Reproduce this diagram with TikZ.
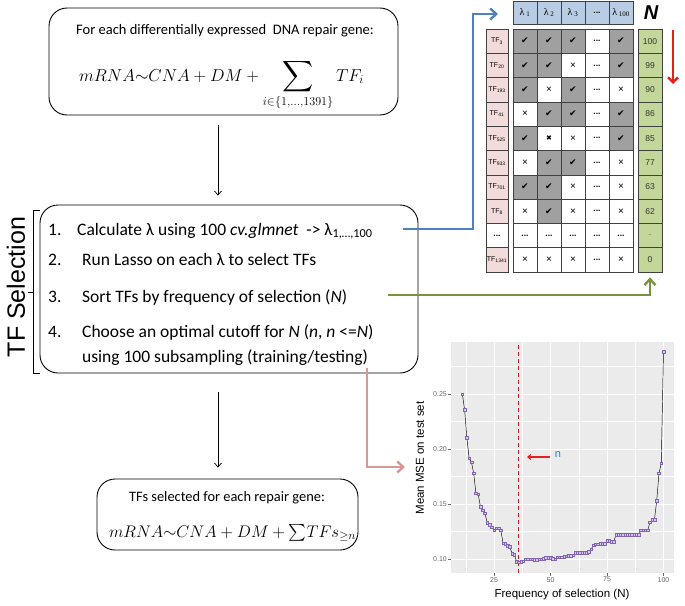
\RequirePackage{fix-cm}
\documentclass[tikz,border=0pt]{standalone}
\usepackage[no-math]{fontspec}
\usepackage{amsmath,amssymb,graphicx}
\setmainfont{Carlito}
\newfontfamily\arial{Liberation Sans}
\newfontfamily\dejavu{DejaVu Sans}
\newfontfamily\timesf{Liberation Serif}
\usetikzlibrary{arrows.meta,calc,plotmarks}
\definecolor{tblue}{RGB}{184,204,228}
\definecolor{tpink}{RGB}{242,220,219}
\definecolor{tgreen}{RGB}{196,215,155}
\definecolor{tgray}{RGB}{160,160,160}
\definecolor{lblue}{RGB}{79,129,189}
\definecolor{lgreen}{RGB}{119,147,60}
\definecolor{lpink}{RGB}{217,150,148}
\definecolor{lred}{RGB}{230,30,30}
\definecolor{panel}{RGB}{235,235,235}
\definecolor{mpurple}{RGB}{130,100,175}
\definecolor{mfill}{RGB}{215,200,235}
\definecolor{nblue}{RGB}{50,120,220}
\newcommand{\bigsum}{\mathop{\vcenter{\hbox{\scalebox{1.25}{$\displaystyle\sum$}}}}}
\begin{document}
\begin{tikzpicture}[x=1pt,y=-1pt,
  box/.style={draw=black, line width=0.9pt, rounded corners=18pt, inner sep=0pt},
  item/.style={anchor=base west, inner sep=0pt, font=\fontsize{17.5}{20}\selectfont},
  flow/.style={-{Straight Barb[length=4pt,width=7pt]}, line width=0.7pt},
  conn/.style={-{Straight Barb[length=6pt,width=11pt]}, line width=2.4pt},
  cbase/.style={draw=black!75, line width=0.6pt, minimum width=24pt, minimum height=24.3pt, inner sep=0pt},
  cg/.style={cbase, fill=tgray, font=\dejavu\fontsize{9}{9}\selectfont, node contents={✔}},
  cx/.style={cbase, fill=white, font=\arial\fontsize{10}{10}\selectfont, node contents={×}},
  cX/.style={cbase, fill=white, font=\dejavu\fontsize{7}{7}\selectfont, node contents={✖}},
  cd/.style={cbase, fill=white, font=\arial\bfseries\fontsize{8.5}{8.5}\selectfont, node contents={...}},
  tfcell/.style={draw=black!75, line width=0.6pt, fill=tpink, minimum width=22pt, minimum height=24.3pt, inner sep=0pt, font=\arial\fontsize{7}{7}\selectfont},
  ncell/.style={draw=black!75, line width=0.6pt, fill=tgreen, minimum width=24pt, minimum height=24.3pt, inner sep=0pt, font=\arial\fontsize{8.5}{8.5}\selectfont, text=black!80},
  hcell/.style={draw=black!75, line width=0.6pt, fill=tblue, minimum width=24pt, minimum height=23pt, inner sep=0pt, font=\timesf\fontsize{10}{10}\selectfont},
  tick/.style={font=\arial\fontsize{7}{7}\selectfont, text=black!60, inner sep=1pt}
]
\useasboundingbox (0,0) rectangle (685,605);

% ---------- top box ----------
\node[box, minimum width=349pt, minimum height=107pt] (top) at (223.5,61.5) {};
\node[font=\fontsize{14.5}{17}\selectfont, inner sep=0pt] (toptxt) at (225,31) {For each differentially expressed\ \ DNA repair gene:};
\node[anchor=base, inner sep=0pt, font=\fontsize{17.3}{20}\selectfont] (topf) at (221.5,81)
  {$mRNA{\sim}CNA + DM + \bigsum\limits_{i\in\{1,\dots,1391\}} TF_i$};

% ---------- middle box ----------
\node[box, minimum width=378pt, minimum height=168pt] (mid) at (229,289) {};
\node[item] (k1) at (48,235) {1.};
\node[item] (t1) at (77,235) {Calculate λ using 100 \textit{cv.glmnet}\ \ -> λ\textsubscript{1,…,100}};
\node[item] (k2) at (48,265) {2.};
\node[item] (t2) at (82,265) {Run Lasso on each λ to select TFs};
\node[item] (k3) at (48,302) {3.};
\node[item] (t3) at (82,302) {Sort TFs by frequency of selection (\textit{N})};
\node[item] (k4) at (48,337) {4.};
\node[item] (t4) at (82,337) {Choose an optimal cutoff for \textit{N} (\textit{n}, \textit{n} <=\textit{N})};
\node[item] (t5) at (82,362) {using 100 subsampling (training/testing)};

% brace and label
\draw[line width=0.8pt] (40,210) -- (33,210) -- (33,373) -- (40,373);
\draw[line width=0.8pt] (33,292) -- (28,292);
\node[rotate=90, font=\arial\fontsize{25}{25}\selectfont, inner sep=0pt] (tfsel) at (16,287) {TF Selection};

% ---------- bottom box ----------
\node[box, minimum width=261pt, minimum height=71pt] (bot) at (227.5,514.5) {};
\node[font=\fontsize{14.4}{17}\selectfont, inner sep=0pt] (bottxt) at (227,498) {TFs selected for each repair gene:};
\node[anchor=base, inner sep=0pt, font=\fontsize{16.8}{20}\selectfont] (botf) at (232.5,537)
  {$mRNA{\sim}CNA + DM + \sum\nolimits\!TFs_{\geq n}$};

% flow arrows
\coordinate (ax) at (218,0);
\draw[flow, shorten <=10pt, shorten >=9pt] (top.south -| ax) -- (mid.north -| ax);
\draw[flow, shorten <=19pt, shorten >=11pt] (mid.south -| ax) -- (bot.north -| ax);

% ---------- table ----------
\foreach \c/\xx/\l in {1/525/1,2/549/2,3/573/3,5/621/100}
  \node[hcell] (h\c) at (\xx,12.5) {λ\,\textsubscript{\l}};
\node[hcell, font=\arial\bfseries\fontsize{8.5}{8.5}\selectfont] (h4) at (597,12.5) {...};
\node[font=\arial\bfseries\itshape\fontsize{20}{20}\selectfont, inner sep=0pt] (Nlab) at (651,13) {N};

\foreach \r/\a/\b/\c/\e in {1/g/g/g/g,2/g/g/x/g,3/g/x/g/x,4/x/g/g/g,5/g/X/x/g,6/x/g/g/x,7/g/g/x/x,8/x/g/x/x,9/d/d/d/d,10/x/x/x/x}{
  \pgfmathsetmacro\yy{29+24.3*(\r-0.5)}
  \node (m\r-1) at (525,\yy) [c\a];
  \node (m\r-2) at (549,\yy) [c\b];
  \node (m\r-3) at (573,\yy) [c\c];
  \node (m\r-4) at (597,\yy) [cd];
  \node (m\r-5) at (621,\yy) [c\e];
}
\foreach \r/\s/\n in {1/3/100,2/20/99,3/193/90,4/41/86,5/525/85,6/933/77,7/701/63,8/8/62,10/1341/0}{
  \pgfmathsetmacro\yy{29+24.3*(\r-0.5)}
  \node[tfcell] (tf\r) at (497,\yy) {TF\textsubscript{\s}};
  \node[ncell] (n\r) at (650,\yy) {\n};
}
\node[tfcell, fill=white, font=\arial\bfseries\fontsize{8.5}{8.5}\selectfont] (tf9) at (497,235.55) {...};
\node[ncell, font=\arial\fontsize{6}{6}\selectfont] (n9) at (650,235.55) {..};

% red arrow
\coordinate (ra) at (673,30);
\coordinate (rb) at (673,84);
\draw[-{Straight Barb[length=5pt,width=10pt]}, lred, line width=2.4pt] (ra) -- (rb);

% ---------- connectors ----------
\coordinate (b0) at (403,229);
\coordinate (bc) at (473,14);
\coordinate (btip) at (498,14);
\draw[conn, lblue, line cap=butt] (b0) -| (bc) -- (btip);
\coordinate (g0) at (388,295);
\draw[conn, lgreen] (g0) -| ([yshift=-5pt]n10.south);
\coordinate (p0) at (367,368);
\coordinate (p1) at (405,467);
\draw[conn, lpink] (p0) |- (p1);

% ---------- plot ----------
\begin{scope}[shift={(437.5,669)}, x=2.26pt, y=1100pt]
  \fill[panel] (6,0.0873) rectangle (104.6,0.2973);
  \foreach \n in {12.5,37.5,62.5,87.5}
    \draw[white, line width=0.4pt] (\n,0.0873) -- (\n,0.2973);
  \foreach \v in {0.125,0.175,0.225,0.275}
    \draw[white, line width=0.4pt] (6,\v) -- (104.6,\v);
  \foreach \n in {25,50,75,100}
    \draw[white, line width=0.9pt] (\n,0.0873) -- (\n,0.2973);
  \foreach \v in {0.10,0.15,0.20,0.25}
    \draw[white, line width=0.9pt] (6,\v) -- (104.6,\v);
  \foreach \v/\l [count=\i] in {0.10/0.10,0.15/0.15,0.20/0.20,0.25/0.25}{
    \draw[black!60, line width=0.5pt] (6,\v) -- ++(-3pt,0);
    \node[tick, anchor=east] (yt\i) at ([xshift=-3pt]6,\v) {\l};
  }
  \foreach \n [count=\i] in {25,50,75,100}{
    \draw[black!60, line width=0.5pt] (\n,0.0873) -- ++(0,-3pt);
    \node[tick, anchor=north] (xt\i) at ([yshift=-3pt]\n,0.0873) {\n};
  }
  \draw[lred!90!black, dashed, dash pattern=on 4pt off 3pt, line width=0.8pt] (36,0.0873) -- (36,0.2973);
  \draw[black, line width=0.45pt] plot[mark=square*, mark size=1.3pt, mark options={draw=mpurple, fill=mfill, line width=0.4pt}] coordinates {
   (11,0.250)(12,0.2355)(13,0.210)(14,0.1915)(15,0.188)(16,0.178)(17,0.160)(18,0.159)(19,0.1475)(20,0.1445)
   (21,0.1415)(22,0.133)(23,0.131)(24,0.129)(25,0.126)(26,0.128)(27,0.128)(28,0.126)(29,0.1145)(30,0.114)
   (31,0.112)(32,0.111)(33,0.105)(34,0.104)(35,0.0975)(36,0.097)(37,0.0975)(38,0.098)(39,0.100)(40,0.100)
   (41,0.100)(42,0.100)(43,0.0995)(44,0.0995)(45,0.100)(46,0.100)(47,0.1005)(48,0.101)(49,0.101)(50,0.101)
   (51,0.1005)(52,0.100)(53,0.1015)(54,0.1015)(55,0.1015)(56,0.102)(57,0.1025)(58,0.103)(59,0.103)(60,0.1035)
   (61,0.1055)(62,0.106)(63,0.106)(64,0.106)(65,0.106)(66,0.106)(67,0.1065)(68,0.109)(69,0.1125)(70,0.1135)
   (71,0.1135)(72,0.114)(73,0.114)(74,0.114)(75,0.1165)(76,0.1165)(77,0.116)(78,0.116)(79,0.122)(80,0.122)
   (81,0.122)(82,0.122)(83,0.122)(84,0.122)(85,0.122)(86,0.122)(87,0.122)(88,0.122)(89,0.122)(90,0.126)
   (91,0.126)(92,0.126)(93,0.126)(94,0.1335)(95,0.1355)(96,0.136)(97,0.153)(98,0.178)(99,0.187)(100,0.2885)};
\end{scope}
\coordinate (na) at (550,457);
\coordinate (nb) at (527,457);
\draw[-{Straight Barb[length=3pt,width=5pt]}, lred, line width=1.1pt] (na) -- (nb);
\node[font=\arial\fontsize{11}{11}\selectfont, text=nblue, inner sep=0pt] (nlab) at (558,455) {n};
\node[rotate=90, font=\arial\fontsize{11.5}{12}\selectfont, inner sep=0pt] (ylab) at (420,458) {Mean MSE on test set};
\node[font=\arial\fontsize{11.5}{12}\selectfont, inner sep=0pt] (xlab) at (562,595) {Frequency of selection (N)};
\end{tikzpicture}
\end{document}
